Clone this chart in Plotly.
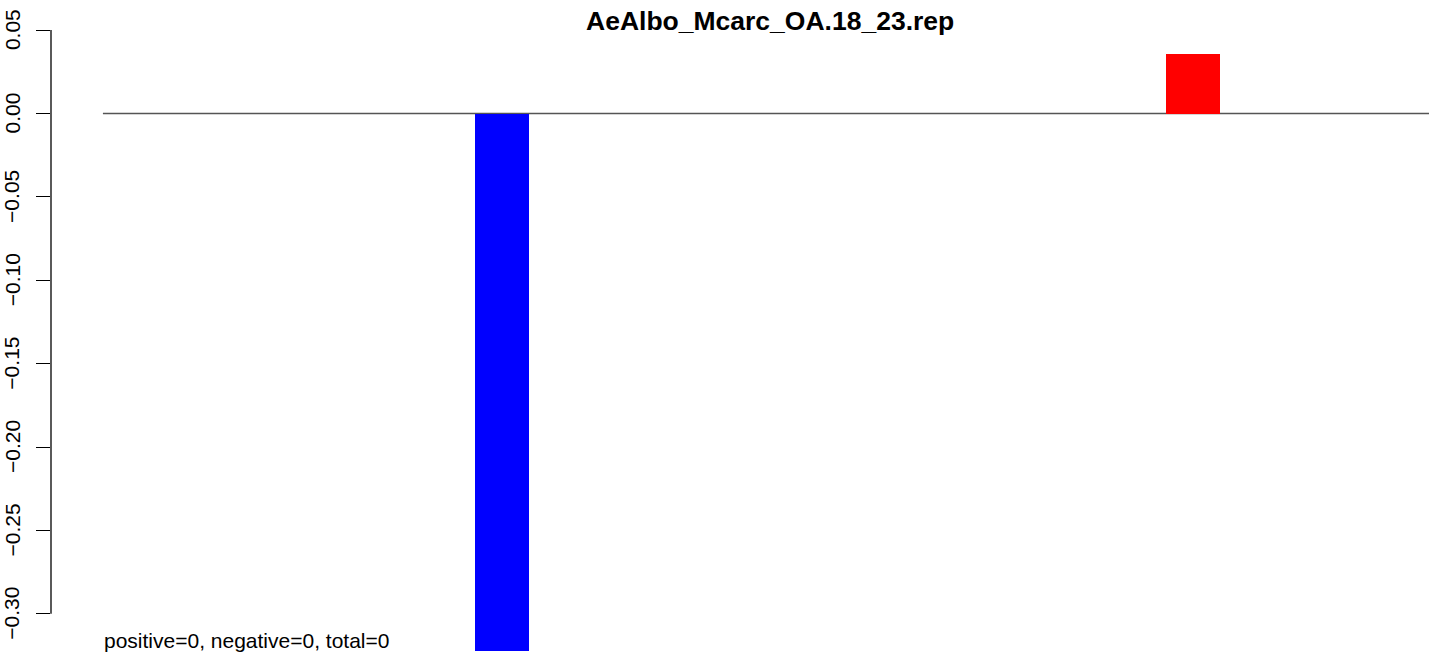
import plotly.graph_objects as go

# ---- data ----
bar_pos = [7.37, 20.17]          # bar centres (bar-width units)
bar_values = [-0.3221, 0.0357]
bar_colors = ["#0000FF", "#FF0000"]
tick_vals = [0.05, 0.00, -0.05, -0.10, -0.15, -0.20, -0.25, -0.30]
tick_text = ["0.05", "0.00", "\u22120.05", "\u22120.10", "\u22120.15", "\u22120.20", "\u22120.25", "\u22120.30"]
title_text = "AeAlbo_Mcarc_OA.18_23.rep"
note_text = "positive=0, negative=0, total=0"

W, H = 1429, 657
L = 51
PW = W - L


def px(x):
    return (x - L) / PW


def py(y):
    return 1 - y / H


FONT = "Liberation Sans, Arial, Helvetica, sans-serif"

fig = go.Figure()
fig.add_trace(go.Bar(
    x=bar_pos, y=bar_values, width=1.0,
    marker=dict(color=bar_colors, line=dict(width=0)),
    showlegend=False, hoverinfo="skip",
))

shapes = [
    # zero baseline
    dict(type="line", xref="x", yref="y", x0=-0.02, x1=24.6, y0=0, y1=0,
         line=dict(color="#555555", width=1.3), layer="below"),
    # y axis line spanning ticks
    dict(type="line", xref="paper", yref="y", x0=0, x1=0,
         y0=min(tick_vals), y1=max(tick_vals),
         line=dict(color="black", width=1.3)),
]

annotations = []
for v, t in zip(tick_vals, tick_text):
    annotations.append(dict(
        x=0, xref="paper", y=v, yref="y", text=t, showarrow=False,
        textangle=-90, xanchor="center", yanchor="middle", xshift=-39,
        font=dict(family=FONT, size=21, color="black"),
    ))
annotations.append(dict(
    x=px(770), xref="paper", y=py(21), yref="paper", text="<b>" + title_text + "</b>",
    showarrow=False, xanchor="center", yanchor="middle",
    font=dict(family=FONT, size=26.5, color="black"),
))
annotations.append(dict(
    x=px(102), xref="paper", y=py(640), yref="paper", text=note_text,
    showarrow=False, xanchor="left", yanchor="middle",
    font=dict(family=FONT, size=21, color="black"),
))

fig.update_layout(
    width=W, height=H,
    margin=dict(l=L, r=0, t=0, b=0),
    paper_bgcolor="white", plot_bgcolor="white",
    xaxis=dict(range=[-0.9815, 24.537], visible=False, fixedrange=True),
    yaxis=dict(range=[-0.3259, 0.06806], showgrid=False, zeroline=False,
               showline=False, tickmode="array", tickvals=tick_vals,
               showticklabels=False, ticks="outside", ticklen=14,
               tickwidth=1.3, tickcolor="black", fixedrange=True),
    shapes=shapes, annotations=annotations,
    bargap=0,
)

fig.write_html(
    "out.html",
    config={"displayModeBar": False},
    post_script="document.body.style.margin='0';document.body.style.overflow='hidden';",
)
